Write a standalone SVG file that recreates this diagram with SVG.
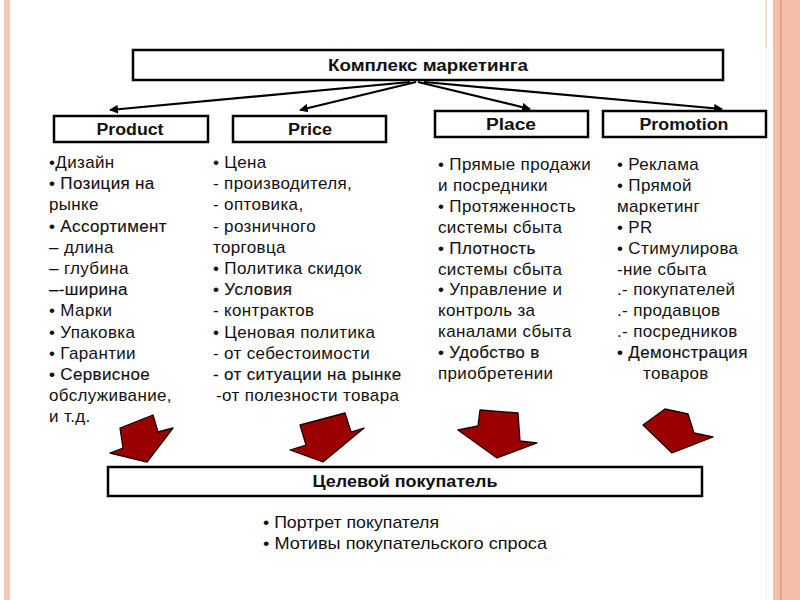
<svg xmlns="http://www.w3.org/2000/svg" width="800" height="600" viewBox="0 0 800 600">
<defs>
<marker id="ah" viewBox="0 0 10 10" refX="9" refY="5" markerWidth="4" markerHeight="4" orient="auto" markerUnits="strokeWidth">
<path d="M0,0 L10,5 L0,10 z" fill="#000"/>
</marker>
<style>
.box{fill:#fff;stroke:#000;stroke-width:2.5}
.hd{font-family:"Liberation Sans",Arial,sans-serif;font-weight:bold;font-size:16px;fill:#111}
.tx{font-family:"Liberation Sans",Arial,sans-serif;font-size:17px;letter-spacing:0.35px;fill:#111}
.dk{stroke:#111;stroke-width:0.15}
.bt{font-family:"Liberation Sans",Arial,sans-serif;font-size:17px;fill:#111}
.con{stroke:#000;stroke-width:2.2;fill:none;marker-end:url(#ah)}
.red{fill:#9b0000;stroke:#1a0000;stroke-width:1.3;stroke-linejoin:round}
</style>
</defs>
<rect width="800" height="600" fill="#fff"/>
<rect x="4" y="0" width="6" height="600" fill="#f4c8b6"/>
<rect x="773" y="0" width="27" height="600" fill="#f2c0aa"/>
<rect x="780" y="0" width="1.5" height="600" fill="#e49a78"/>
<rect x="765.5" y="0" width="1.5" height="48" fill="#f3d6c6"/>
<rect x="765.5" y="48" width="1" height="552" fill="#faeee6"/>

<g id="connectors">
<line class="con" x1="410" y1="82" x2="110" y2="110"/>
<line class="con" x1="416" y1="82" x2="300" y2="110"/>
<line class="con" x1="418" y1="82" x2="530" y2="109"/>
<line class="con" x1="424" y1="82" x2="722" y2="109"/>
</g>

<g id="n-komplex">
<rect class="box" x="133" y="50" width="590" height="30"/>
<text class="hd" x="428" y="71" text-anchor="middle" textLength="200" lengthAdjust="spacingAndGlyphs">Комплекс маркетинга</text>
</g>
<g id="n-product">
<rect class="box" x="54" y="116" width="154" height="26"/>
<text class="hd" x="130" y="135" text-anchor="middle" textLength="67" lengthAdjust="spacingAndGlyphs">Product</text>
</g>
<g id="n-price">
<rect class="box" x="233" y="116" width="153" height="26"/>
<text class="hd" x="310" y="135" text-anchor="middle" textLength="44" lengthAdjust="spacingAndGlyphs">Price</text>
</g>
<g id="n-place">
<rect class="box" x="435" y="111" width="153" height="26"/>
<text class="hd" x="511" y="130" text-anchor="middle" textLength="50" lengthAdjust="spacingAndGlyphs">Place</text>
</g>
<g id="n-promotion">
<rect class="box" x="603" y="111" width="163" height="26"/>
<text class="hd" x="684" y="130" text-anchor="middle" textLength="89" lengthAdjust="spacingAndGlyphs">Promotion</text>
</g>

<g id="list-product" class="tx">
<text x="49" y="168">•Дизайн</text>
<text x="49" y="189.2" class="dk">• Позиция  на</text>
<text x="49" y="210.4">рынке</text>
<text x="49" y="231.6" class="dk">• Ассортимент</text>
<text x="49" y="252.8">– длина</text>
<text x="49" y="274">– глубина</text>
<text x="49" y="295.2" class="dk">–-ширина</text>
<text x="49" y="316.4">• Марки</text>
<text x="49" y="337.6">• Упаковка</text>
<text x="49" y="358.8">• Гарантии</text>
<text x="49" y="380" class="dk">• Сервисное</text>
<text x="49" y="401.2">обслуживание,</text>
<text x="49" y="422.4">и т.д.</text>
</g>

<g id="list-price" class="tx">
<text x="213" y="168">• Цена</text>
<text x="213" y="189.2">- производителя,</text>
<text x="213" y="210.4">- оптовика,</text>
<text x="213" y="231.6">- розничного</text>
<text x="213" y="252.8">торговца</text>
<text x="213" y="274">• Политика скидок</text>
<text x="213" y="295.2" class="dk">• Условия</text>
<text x="213" y="316.4">- контрактов</text>
<text x="213" y="337.6">• Ценовая политика</text>
<text x="213" y="358.8">- от себестоимости</text>
<text x="213" y="380" class="dk">- от ситуации на рынке</text>
<text x="216" y="401.2">-от полезности товара</text>
</g>

<g id="list-place" class="tx">
<text x="438" y="170">• Прямые продажи</text>
<text x="438" y="190.9">и посредники</text>
<text x="438" y="211.8">• Протяженность</text>
<text x="438" y="232.7">системы сбыта</text>
<text x="438" y="253.6" class="dk">• Плотность</text>
<text x="438" y="274.5">системы сбыта</text>
<text x="438" y="295.4">• Управление и</text>
<text x="438" y="316.3">контроль за</text>
<text x="438" y="337.2">каналами сбыта</text>
<text x="438" y="358.1" class="dk">• Удобство в</text>
<text x="438" y="379">приобретении</text>
</g>

<g id="list-promotion" class="tx">
<text x="617" y="170">• Реклама</text>
<text x="617" y="190.9">• Прямой</text>
<text x="617" y="211.8">маркетинг</text>
<text x="617" y="232.7">• PR</text>
<text x="617" y="253.6">• Стимулирова</text>
<text x="617" y="274.5">-ние сбыта</text>
<text x="617" y="295.4">.- покупателей</text>
<text x="617" y="316.3">.- продавцов</text>
<text x="617" y="337.2">.- посредников</text>
<text x="617" y="358.1" class="dk">• Демонстрация</text>
<text x="643" y="379">товаров</text>
</g>

<g id="red-arrows">
<polygon class="red" points="120,428 153,415 158,432 173,428 147,462 110,453 123,448"/>
<polygon class="red" points="300,425 345,413 351,432 364,428 323,462 290,450 306,445"/>
<polygon class="red" points="480,410 518,413 520,441 537,443 497,458 458,430 478,426"/>
<polygon class="red" points="643,425 665,409 688,414 694,433 713,437 672,453"/>
</g>

<g id="n-target">
<rect class="box" x="108" y="467" width="594" height="29"/>
<text class="hd" x="405" y="487" text-anchor="middle" textLength="185" lengthAdjust="spacingAndGlyphs">Целевой покупатель</text>
</g>

<g id="list-target" class="bt">
<text x="263" y="528" textLength="176" lengthAdjust="spacingAndGlyphs">• Портрет покупателя</text>
<text x="263" y="549" textLength="284" lengthAdjust="spacingAndGlyphs">• Мотивы покупательского спроса</text>
</g>
</svg>
